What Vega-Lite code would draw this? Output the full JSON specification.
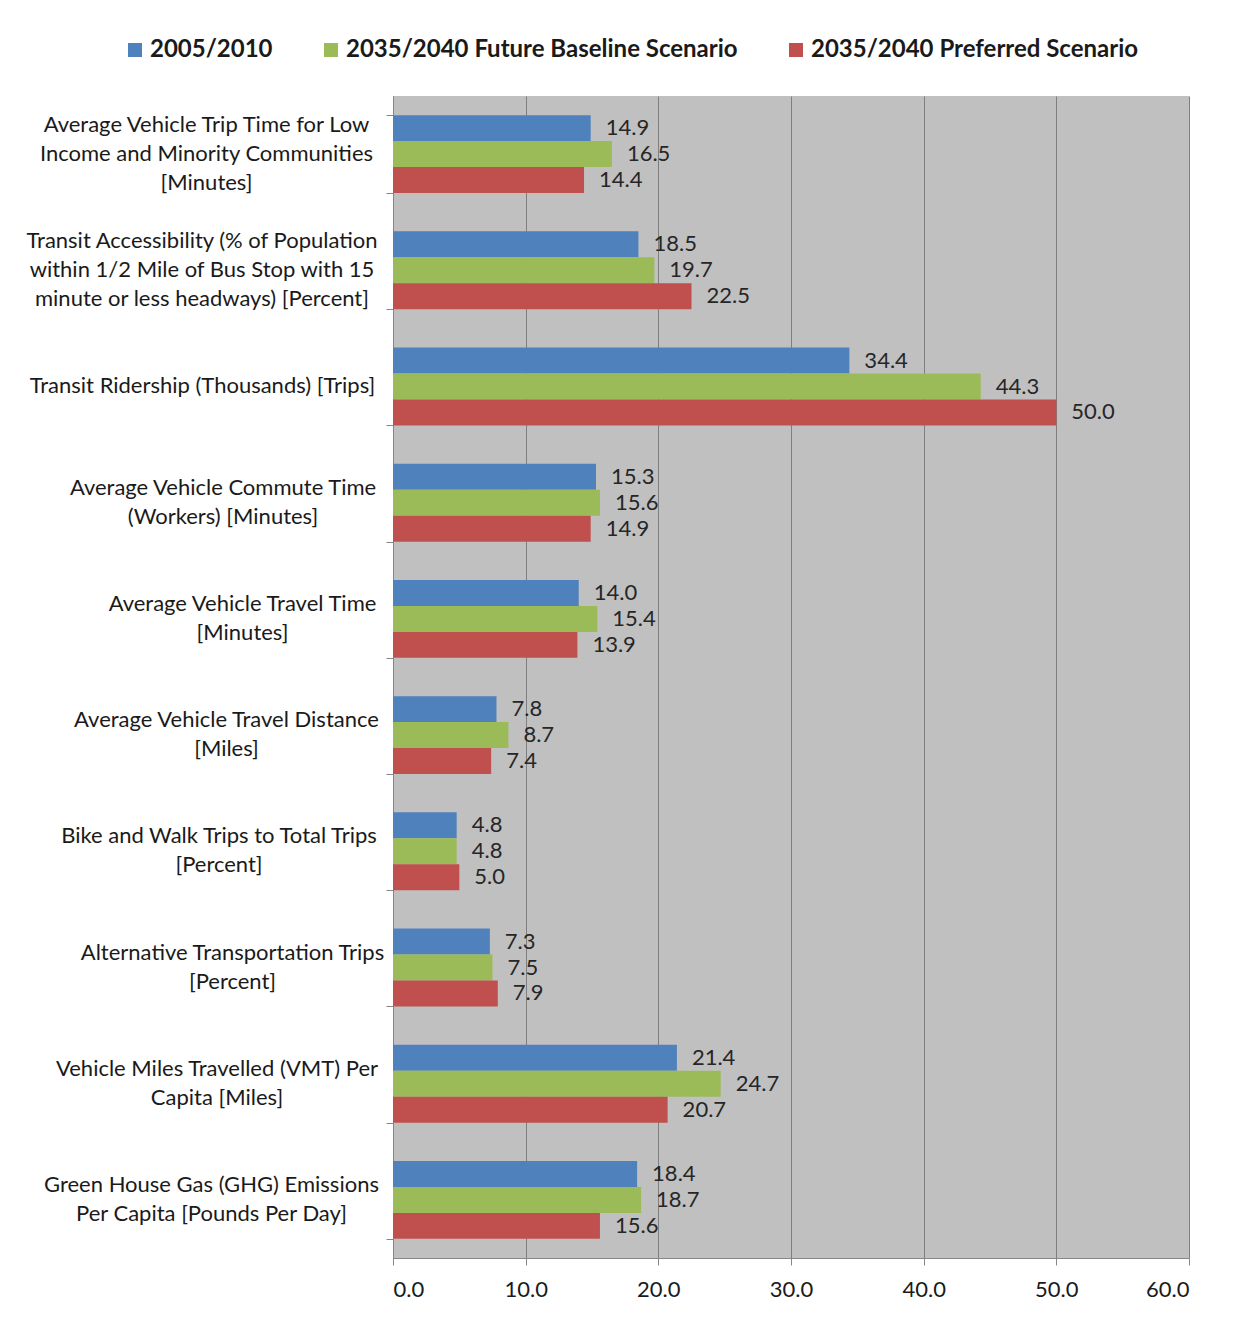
{
  "$schema": "https://vega.github.io/schema/vega-lite/v6.json",
  "autosize": "none",
  "width": 796,
  "height": 1162,
  "padding": {"left": 393, "top": 96, "right": 50, "bottom": 74},
  "background": "white",
  "config": {
    "view": {"fill": "#c0c0c0", "stroke": null},
    "font": "Lato"
  },
  "data": {
    "values": [
      {"category": "Average Vehicle Trip Time for Low|Income and Minority Communities|[Minutes]", "series": "2005/2010", "value": 14.9},
      {"category": "Average Vehicle Trip Time for Low|Income and Minority Communities|[Minutes]", "series": "2035/2040 Future Baseline Scenario", "value": 16.5},
      {"category": "Average Vehicle Trip Time for Low|Income and Minority Communities|[Minutes]", "series": "2035/2040 Preferred Scenario", "value": 14.4},
      {"category": "Transit Accessibility (% of Population|within 1/2 Mile of Bus Stop with 15|minute or less headways) [Percent]", "series": "2005/2010", "value": 18.5},
      {"category": "Transit Accessibility (% of Population|within 1/2 Mile of Bus Stop with 15|minute or less headways) [Percent]", "series": "2035/2040 Future Baseline Scenario", "value": 19.7},
      {"category": "Transit Accessibility (% of Population|within 1/2 Mile of Bus Stop with 15|minute or less headways) [Percent]", "series": "2035/2040 Preferred Scenario", "value": 22.5},
      {"category": "Transit Ridership (Thousands) [Trips]", "series": "2005/2010", "value": 34.4},
      {"category": "Transit Ridership (Thousands) [Trips]", "series": "2035/2040 Future Baseline Scenario", "value": 44.3},
      {"category": "Transit Ridership (Thousands) [Trips]", "series": "2035/2040 Preferred Scenario", "value": 50.0},
      {"category": "Average Vehicle Commute Time|(Workers) [Minutes]", "series": "2005/2010", "value": 15.3},
      {"category": "Average Vehicle Commute Time|(Workers) [Minutes]", "series": "2035/2040 Future Baseline Scenario", "value": 15.6},
      {"category": "Average Vehicle Commute Time|(Workers) [Minutes]", "series": "2035/2040 Preferred Scenario", "value": 14.9},
      {"category": "Average Vehicle Travel Time|[Minutes]", "series": "2005/2010", "value": 14.0},
      {"category": "Average Vehicle Travel Time|[Minutes]", "series": "2035/2040 Future Baseline Scenario", "value": 15.4},
      {"category": "Average Vehicle Travel Time|[Minutes]", "series": "2035/2040 Preferred Scenario", "value": 13.9},
      {"category": "Average Vehicle Travel Distance|[Miles]", "series": "2005/2010", "value": 7.8},
      {"category": "Average Vehicle Travel Distance|[Miles]", "series": "2035/2040 Future Baseline Scenario", "value": 8.7},
      {"category": "Average Vehicle Travel Distance|[Miles]", "series": "2035/2040 Preferred Scenario", "value": 7.4},
      {"category": "Bike and Walk Trips to Total Trips|[Percent]", "series": "2005/2010", "value": 4.8},
      {"category": "Bike and Walk Trips to Total Trips|[Percent]", "series": "2035/2040 Future Baseline Scenario", "value": 4.8},
      {"category": "Bike and Walk Trips to Total Trips|[Percent]", "series": "2035/2040 Preferred Scenario", "value": 5.0},
      {"category": "Alternative Transportation Trips|[Percent]", "series": "2005/2010", "value": 7.3},
      {"category": "Alternative Transportation Trips|[Percent]", "series": "2035/2040 Future Baseline Scenario", "value": 7.5},
      {"category": "Alternative Transportation Trips|[Percent]", "series": "2035/2040 Preferred Scenario", "value": 7.9},
      {"category": "Vehicle Miles Travelled (VMT) Per|Capita [Miles]", "series": "2005/2010", "value": 21.4},
      {"category": "Vehicle Miles Travelled (VMT) Per|Capita [Miles]", "series": "2035/2040 Future Baseline Scenario", "value": 24.7},
      {"category": "Vehicle Miles Travelled (VMT) Per|Capita [Miles]", "series": "2035/2040 Preferred Scenario", "value": 20.7},
      {"category": "Green House Gas (GHG) Emissions|Per Capita [Pounds Per Day]", "series": "2005/2010", "value": 18.4},
      {"category": "Green House Gas (GHG) Emissions|Per Capita [Pounds Per Day]", "series": "2035/2040 Future Baseline Scenario", "value": 18.7},
      {"category": "Green House Gas (GHG) Emissions|Per Capita [Pounds Per Day]", "series": "2035/2040 Preferred Scenario", "value": 15.6}
    ]
  },
  "encoding": {
    "y": {
      "field": "category",
      "type": "nominal",
      "sort": null,
      "title": null,
      "scale": {"paddingInner": 0.33, "paddingOuter": 0.165},
      "axis": {
        "labelExpr": "split(datum.label, '|')",
        "labelAlign": "center",
        "labelBaseline": "middle",
        "labelOffset": {"expr": "-(length(split(datum.value, '|')) - 1) * 14.5 - 1"},
        "labelPadding": {"expr": "13 + 0.5 * max(11 * length(split(datum.value, '|')[0]) - 5 * length(replace(split(datum.value, '|')[0], regexp('[^ iltrfj()/.,1]', 'g'), '')) + 10 * length(replace(split(datum.value, '|')[0], regexp('[^mwMW%]', 'g'), '')) + 3 * length(replace(split(datum.value, '|')[0], regexp('[^GHOQDCN]', 'g'), '')), 11 * length(split(datum.value, '|')[1] || '') - 5 * length(replace(split(datum.value, '|')[1] || '', regexp('[^ iltrfj()/.,1]', 'g'), '')) + 10 * length(replace(split(datum.value, '|')[1] || '', regexp('[^mwMW%]', 'g'), '')) + 3 * length(replace(split(datum.value, '|')[1] || '', regexp('[^GHOQDCN]', 'g'), '')), 11 * length(split(datum.value, '|')[2] || '') - 5 * length(replace(split(datum.value, '|')[2] || '', regexp('[^ iltrfj()/.,1]', 'g'), '')) + 10 * length(replace(split(datum.value, '|')[2] || '', regexp('[^mwMW%]', 'g'), '')) + 3 * length(replace(split(datum.value, '|')[2] || '', regexp('[^GHOQDCN]', 'g'), '')))"},
        "labelFontSize": 22,
        "labelLineHeight": 29,
        "labelColor": "#1a1a1a",
        "labelLimit": 400,
        "tickBand": "extent",
        "tickSize": 7,
        "tickColor": "#868686",
        "domainColor": "#868686",
        "grid": false
      }
    },
    "yOffset": {
      "field": "series",
      "type": "nominal",
      "sort": ["2005/2010", "2035/2040 Future Baseline Scenario", "2035/2040 Preferred Scenario"]
    },
    "x": {
      "field": "value",
      "type": "quantitative",
      "title": null,
      "scale": {"domain": [0, 60], "nice": false},
      "axis": {
        "values": [0, 10, 20, 30, 40, 50, 60],
        "format": ".1f",
        "labelFontSize": 22,
        "labelColor": "#1a1a1a",
        "labelPadding": 14,
        "tickSize": 7,
        "tickColor": "#868686",
        "domainColor": "#868686",
        "grid": true,
        "gridColor": "#7f7f7f",
        "gridWidth": 1
      }
    }
  },
  "layer": [
    {
      "mark": {"type": "bar"},
      "encoding": {
        "color": {
          "field": "series",
          "type": "nominal",
          "sort": ["2005/2010", "2035/2040 Future Baseline Scenario", "2035/2040 Preferred Scenario"],
          "scale": {
            "domain": ["2005/2010", "2035/2040 Future Baseline Scenario", "2035/2040 Preferred Scenario"],
            "range": ["#4f81bd", "#9bbb59", "#c0504d"]
          },
          "legend": {
            "title": null,
            "orient": "none",
            "legendX": -270,
            "legendY": -58,
            "direction": "horizontal",
            "columns": 3,
            "symbolType": "square",
            "symbolSize": 196,
            "symbolStrokeWidth": 0,
            "labelFontSize": 24,
            "labelFontWeight": "bold",
            "labelColor": "#1a1a1a",
            "labelOffset": 3,
            "labelLimit": 500,
            "columnPadding": 46
          }
        }
      }
    },
    {
      "mark": {"type": "text", "align": "left", "baseline": "middle", "dx": 15, "fontSize": 22, "color": "#262626"},
      "encoding": {
        "text": {"field": "value", "type": "quantitative", "format": ".1f"}
      }
    }
  ]
}
